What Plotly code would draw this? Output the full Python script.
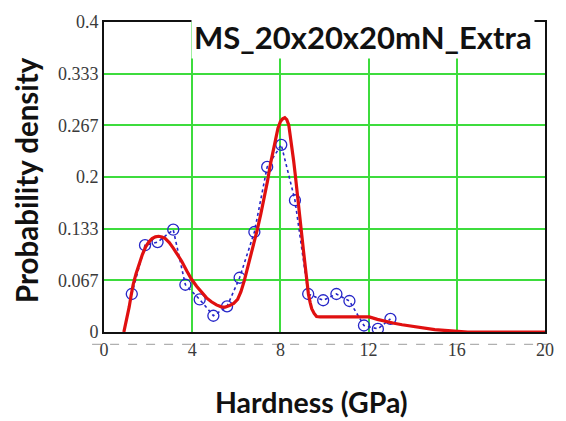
import plotly.graph_objects as go

# Measured hardness histogram (bin centre in GPa, probability density)
hist_x = [1.26, 1.86, 2.43, 3.14, 3.69, 4.34, 4.96, 5.58, 6.15, 6.82,
          7.40, 8.04, 8.66, 9.26, 9.94, 10.54, 11.13, 11.79, 12.42, 12.99]
hist_y = [0.049, 0.112, 0.116, 0.132, 0.061, 0.042, 0.021, 0.033, 0.070, 0.129,
          0.213, 0.2415, 0.170, 0.049, 0.041, 0.049, 0.040, 0.0084, 0.004, 0.017]

# Fitted probability density curve
fit_x = [0.90, 0.95, 1.04, 1.14, 1.23, 1.32, 1.45, 1.59, 1.74, 1.89, 2.03, 2.18,
         2.33, 2.48, 2.63, 2.78, 2.96, 3.15, 3.34, 3.53, 3.75, 3.97, 4.20,
         4.42, 4.65, 4.87, 5.10, 5.32, 5.50, 5.69, 5.88, 6.06, 6.21, 6.36,
         6.51, 6.66, 6.81, 6.96, 7.11, 7.26, 7.41, 7.55, 7.67, 7.78, 7.89,
         8.00, 8.10, 8.20, 8.29, 8.38, 8.45, 8.52, 8.60, 8.67, 8.75, 8.82,
         8.90, 8.97, 9.05, 9.12, 9.20, 9.27, 9.35, 9.42, 9.53, 9.64, 9.80,
         10.5, 11.3, 12.03, 12.40, 12.77, 13.15, 13.52, 13.89, 14.26, 14.63,
         15.0, 15.45, 15.9, 16.5, 20.0]
fit_y = [0.0, 0.006, 0.018, 0.032, 0.047, 0.061, 0.075, 0.088, 0.100, 0.110,
         0.116, 0.1205, 0.1228, 0.1235, 0.1226, 0.1205, 0.1155, 0.108, 0.100,
         0.091, 0.079, 0.068, 0.059, 0.051, 0.044, 0.039, 0.035, 0.0325,
         0.0322, 0.034, 0.037, 0.042, 0.052, 0.066, 0.082, 0.0996, 0.116,
         0.133, 0.152, 0.171, 0.194, 0.217, 0.234, 0.2506, 0.263, 0.2715,
         0.275, 0.2765, 0.274, 0.267, 0.254, 0.238, 0.221, 0.204, 0.185,
         0.1667, 0.146, 0.125, 0.104, 0.083, 0.064, 0.049, 0.038, 0.030,
         0.024, 0.020, 0.0195, 0.0195, 0.0195, 0.0195, 0.0163, 0.0136,
         0.0113, 0.0094, 0.0076, 0.006, 0.0045, 0.003, 0.002, 0.0012, 0.0, 0.0]

x_ticks = [0, 4, 8, 12, 16, 20]
y_ticks = [0, 0.0667, 0.1333, 0.2, 0.2667, 0.3333, 0.4]
y_tick_text = ["0", "0.067", "0.133", "0.2", "0.267", "0.333", "0.4"]

title_text = "MS_20x20x20mN_Extra"
x_title = "Hardness (GPa)"
y_title = "Probability density"

GREEN = "#3ddc3d"
BLUE = "#2626c8"
RED = "#e01010"

fig = go.Figure()

fig.add_trace(go.Scatter(
    x=hist_x, y=hist_y, mode="lines+markers",
    line=dict(color=BLUE, width=1.6, dash="dot"),
    marker=dict(symbol="circle-open", size=11, color=BLUE, line=dict(width=1.3, color=BLUE)),
    showlegend=False, hoverinfo="skip",
))

fig.add_trace(go.Scatter(
    x=fit_x, y=fit_y, mode="lines",
    line=dict(color=RED, width=3.2),
    showlegend=False, hoverinfo="skip",
))

tick_font = dict(family="Liberation Serif", size=18, color="#3a3a3a")

fig.update_xaxes(
    range=[0, 20], tickvals=x_ticks, ticktext=[str(v) for v in x_ticks],
    showgrid=True, gridcolor=GREEN, gridwidth=1.6,
    showline=True, linecolor="#111111", linewidth=2, mirror=True,
    ticks="", tickfont=tick_font, zeroline=False,
)
fig.update_yaxes(
    range=[0, 0.4], tickvals=y_ticks, ticktext=y_tick_text,
    showgrid=True, gridcolor=GREEN, gridwidth=1.6,
    showline=True, linecolor="#111111", linewidth=2, mirror=True,
    ticks="", tickfont=tick_font, zeroline=False,
)

# dashed guide running through the x tick labels
fig.add_shape(type="line", xref="paper", yref="paper",
              x0=-0.027, x1=1.01, y0=-0.04, y1=-0.04,
              line=dict(color="#b0b0b0", width=1.2, dash="dash"), layer="below")

fig.add_annotation(
    text=title_text, xref="paper", yref="paper", x=0.977, y=0.952,
    xanchor="right", yanchor="middle", showarrow=False,
    font=dict(family="Lato", size=31, color="#111111", weight="bold"),
    bgcolor="white", borderpad=2,
)
fig.add_annotation(
    text=x_title, xref="paper", yref="paper", x=0.47, y=-0.227,
    xanchor="center", yanchor="middle", showarrow=False,
    font=dict(family="Lato", size=28.5, color="#111111", weight="bold"),
)
fig.add_annotation(
    text=y_title, xref="paper", yref="paper", x=-0.177, y=0.49,
    xanchor="center", yanchor="middle", showarrow=False, textangle=-90,
    font=dict(family="Lato", size=29.5, color="#111111", weight="bold"),
)

fig.update_layout(
    width=566, height=421,
    margin=dict(l=104, r=15, t=14, b=89),
    paper_bgcolor="white", plot_bgcolor="white",
)

fig.write_html("out.html")
